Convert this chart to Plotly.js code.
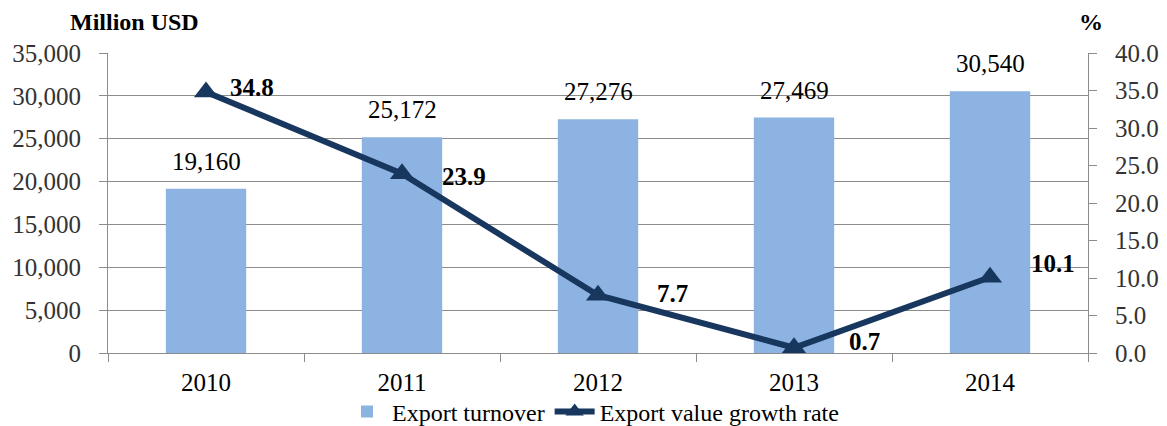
<!DOCTYPE html>
<html>
<head>
<meta charset="utf-8">
<script src="https://cdn.plot.ly/plotly-3.0.1.min.js"></script>
<style>html,body{margin:0;padding:0;background:#fff;}#chart{width:1167px;height:426px;}</style>
</head>
<body>
<div id="chart"></div>
<script>
const years = ["2010", "2011", "2012", "2013", "2014"];
const exportTurnover = [19160, 25172, 27276, 27469, 30540];
const growthRate = [34.8, 23.9, 7.7, 0.7, 10.1];
const barLabels = ["19,160", "25,172", "27,276", "27,469", "30,540"];
const rateLabels = ["34.8", "23.9", "7.7", "0.7", "10.1"];

// label placement (style only)
const rateLabelShiftX = [22, 38, 57, 53, 39];
const rateLabelShiftY = [5, -3, 2, 6, 14];

const serif = "'Liberation Serif', 'Times New Roman', serif";
const gridColor = "#8c8c8c";

const W = 1167, H = 426, mL = 108, mR = 79, mT = 53, mB = 73;
const pw = W - mL - mR, ph = H - mT - mB;

const annotations = [];
years.forEach((y, i) => {
  annotations.push({
    x: i, y: exportTurnover[i], xref: "x", yref: "y",
    text: barLabels[i], showarrow: false,
    xanchor: "center", yanchor: "bottom", yshift: 12,
    font: {family: serif, size: 25, color: "#000"}
  });
  annotations.push({
    x: i, y: growthRate[i], xref: "x", yref: "y2",
    text: "<b>" + rateLabels[i] + "</b>", showarrow: false,
    xanchor: "left", yanchor: "middle",
    xshift: rateLabelShiftX[i], yshift: rateLabelShiftY[i],
    font: {family: serif, size: 25, color: "#000"}
  });
});
annotations.push({
  x: (134 - mL) / pw, y: 1 + (mT - 22) / ph, xref: "paper", yref: "paper",
  text: "<b>Million USD</b>", showarrow: false, xanchor: "center", yanchor: "middle",
  font: {family: serif, size: 24, color: "#000"}
});
annotations.push({
  x: (1091 - mL) / pw, y: 1 + (mT - 22) / ph, xref: "paper", yref: "paper",
  text: "<b>%</b>", showarrow: false, xanchor: "center", yanchor: "middle",
  font: {family: serif, size: 24, color: "#000"}
});

const traces = [
  {
    type: "bar", name: "Export turnover", x: years, y: exportTurnover,
    marker: {color: "#8db3e2"}, yaxis: "y"
  },
  {
    type: "scatter", mode: "lines+markers", name: "Export value growth rate",
    x: years, y: growthRate, yaxis: "y2",
    line: {color: "#17375e", width: 6},
    marker: {symbol: "triangle-up", size: 21, color: "#17375e"}
  }
];

const layout = {
  width: W, height: H,
  margin: {l: mL, r: mR, t: mT, b: mB, pad: 0, autoexpand: false},
  paper_bgcolor: "#fff", plot_bgcolor: "#fff",
  font: {family: serif, size: 25, color: "#000"},
  bargap: 0.59,
  showlegend: true,
  legend: {
    orientation: "h", xref: "container", x: 593 / W, xanchor: "center",
    yref: "container", y: 1 - 412 / H, yanchor: "middle",
    bgcolor: "rgba(0,0,0,0)", borderwidth: 0,
    font: {family: serif, size: 24, color: "#000"},
    itemwidth: 40, tracegroupgap: 0, traceorder: "normal"
  },
  xaxis: {
    type: "category", range: [-0.5, 4.5], autorange: false,
    showgrid: false, showline: true, linecolor: gridColor, linewidth: 1,
    ticks: "outside", ticklen: 8, tickcolor: gridColor, tickson: "boundaries",
    tickfont: {family: serif, size: 25, color: "#000"}, ticklabelstandoff: 7,
    tickangle: 0, automargin: false, zeroline: false, fixedrange: true
  },
  yaxis: {
    range: [0, 35000], autorange: false, dtick: 5000, tick0: 0, tickformat: ",d",
    showgrid: true, gridcolor: gridColor, gridwidth: 1,
    showline: true, linecolor: gridColor, linewidth: 1,
    ticks: "outside", ticklen: 8, tickcolor: gridColor,
    tickfont: {family: serif, size: 25, color: "#333"}, ticklabelstandoff: 13,
    automargin: false, zeroline: false
  },
  yaxis2: {
    range: [0, 40], autorange: false, dtick: 5, tick0: 0, tickformat: ".1f",
    overlaying: "y", side: "right", showgrid: false,
    showline: true, linecolor: gridColor, linewidth: 1,
    ticks: "outside", ticklen: 8, tickcolor: gridColor,
    tickfont: {family: serif, size: 25, color: "#333"}, ticklabelstandoff: 13,
    automargin: false, zeroline: false
  },
  annotations: annotations
};

Plotly.newPlot("chart", traces, layout, {displayModeBar: false, staticPlot: true});
</script>
</body>
</html>
